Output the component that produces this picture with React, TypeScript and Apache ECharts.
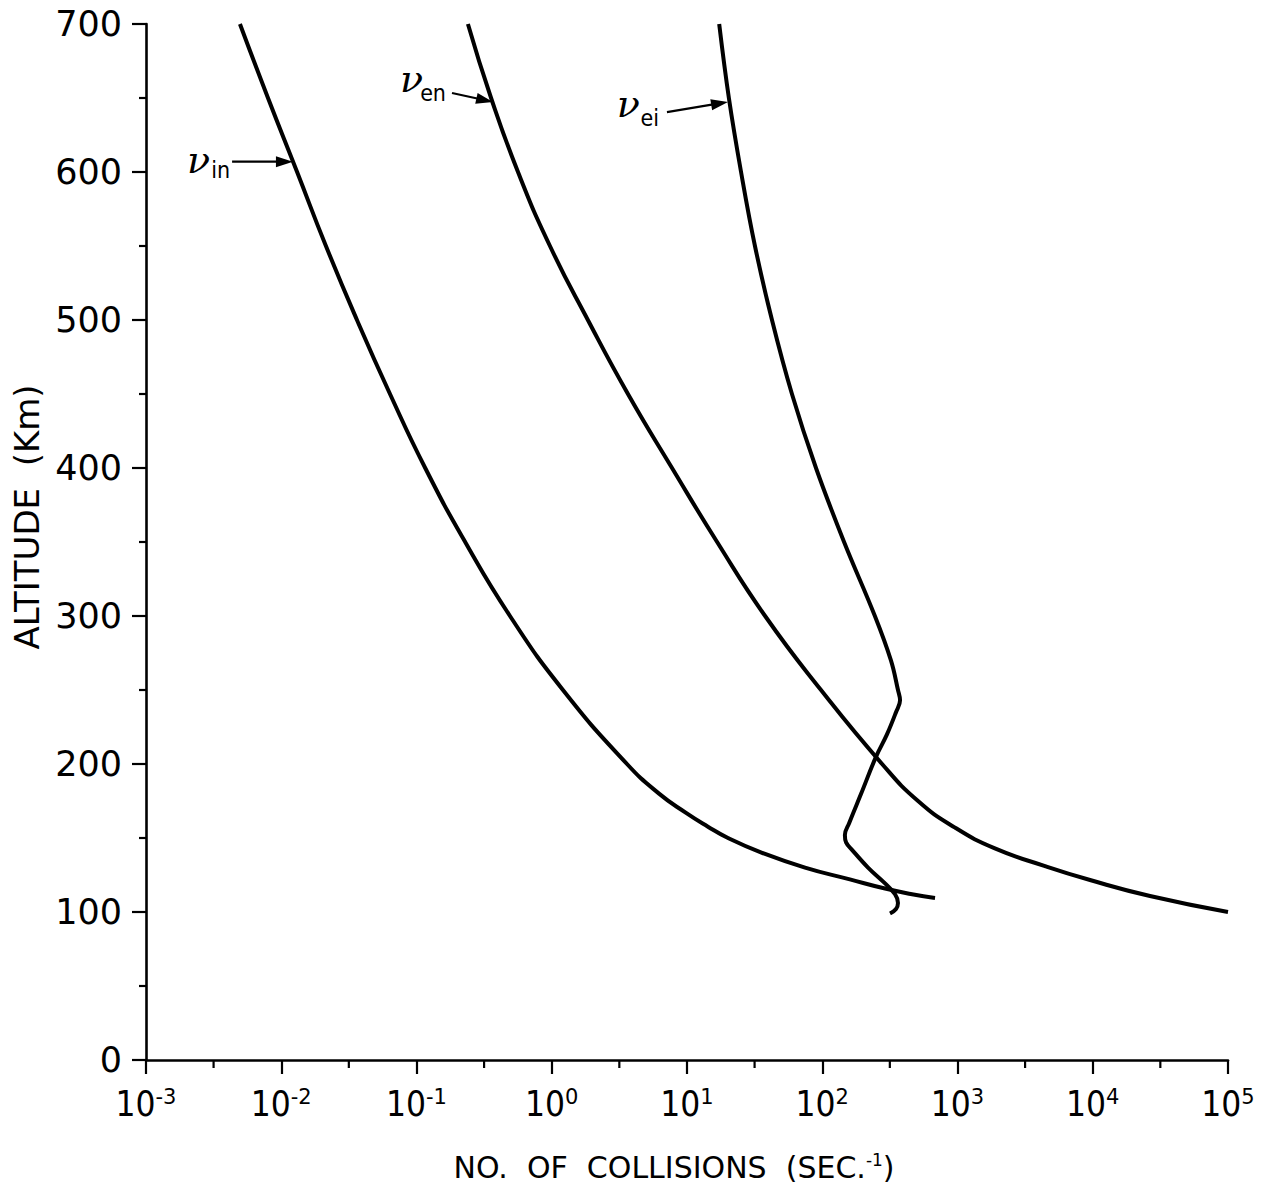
import React, { useEffect, useRef } from 'react';
import * as echarts from 'echarts';

// ---- data (collision frequency in s^-1 vs altitude in km) ----
const altIn = [700, 650, 600, 550, 500, 450, 400, 350, 300, 250, 200, 180, 167, 158, 150, 140, 130, 122, 116, 112, 109.5];
const nuIn = [4.95e-3, 7.98e-3, 1.31e-2, 2.14e-2, 3.63e-2, 6.37e-2, 0.116, 0.229, 0.491, 1.21, 3.6, 6.21, 9.84, 14.1, 20.1, 35.9, 74.6, 160, 286, 461, 682];

const altEn = [700, 650, 600, 550, 500, 450, 400, 350, 300, 250, 200, 175, 157, 143, 131, 121.6, 110.8, 100];
const nuEn = [0.24, 0.356, 0.563, 0.97, 1.85, 3.66, 7.75, 16.7, 37.8, 97.9, 277, 511, 959, 1890, 4440, 9550, 26500, 100000];

const altEi = [700, 650, 600, 550, 500, 450, 400, 350, 300, 270, 250, 243, 235, 220, 205, 180, 160, 152, 147, 142, 130, 120, 112, 106, 102, 99];
const nuEi = [17.3, 20.4, 25.1, 31.8, 42.5, 59.7, 89.9, 145, 245, 322, 363, 376, 351, 301, 250, 194, 158, 147, 150, 166, 218, 286, 345, 363, 351, 317];

// axis ticks
const xMin = 1e-3;
const xMax = 1e5;
const xMinorTicks = [3.16e-3, 3.16e-2, 0.316, 3.16, 31.6, 316, 3160, 31600];
const yMin = 0;
const yMax = 700;
const yStep = 100;

// annotations: subscript, arrow start [nu, km], arrow tip [nu, km]
const annLabels = ['in', 'en', 'ei'];
const annFrom = [[4.33e-3, 607], [0.183, 653.4], [7.11, 640.5]];
const annTo = [[0.0122, 607], [0.368, 647.3], [20.1, 647.3]];
// pixel offsets of nu / subscript relative to arrow start (right edge, baseline)
const annNuOff = [[-22, 10], [-29, -3], [-27, 3]];
const annSubOff = [[-2, 15], [-6, 7], [-8, 13]];

const toPairs = (xs: number[], ys: number[]) => ys.map((y, i) => [xs[i], y]);

const curveStyle = { color: '#000', width: 4 };

const axisFont = '"DejaVu Sans", Verdana, sans-serif';
const narrowFont = '"Liberation Sans Narrow", "DejaVu Sans Condensed", Roboto, sans-serif';

const option: any = {
  animation: false,
  backgroundColor: '#ffffff',
  grid: { left: 146, right: 40, top: 24, bottom: 136, containLabel: false, outerBoundsMode: 'none' },
  xAxis: {
    type: 'log',
    logBase: 10,
    min: xMin,
    max: xMax,
    splitNumber: 8,
    name: '{a|NO.  OF  COLLISIONS  (SEC.}{s|-1}{a|)}',
    nameLocation: 'middle',
    nameGap: 91,
    nameTextStyle: {
      padding: [0, 26, 0, 0],
      rich: {
        a: { fontSize: 30, fontFamily: axisFont, color: '#000', lineHeight: 32 },
        s: { fontSize: 17, fontFamily: axisFont, color: '#000', verticalAlign: 'top', lineHeight: 16 },
      },
    },
    axisLine: { show: true, onZero: false, lineStyle: { color: '#000', width: 2.6 } },
    axisTick: { show: true, inside: false, length: 14, lineStyle: { color: '#000', width: 2.2 } },
    axisLabel: {
      margin: 26,
      formatter: (v: number) => `{b|10}{e|${Math.round(Math.log10(v))}}`,
      rich: {
        b: { fontSize: 35, fontFamily: narrowFont, color: '#000', lineHeight: 36 },
        e: { fontSize: 21, fontFamily: axisFont, color: '#000', verticalAlign: 'top', lineHeight: 18 },
      },
    },
    splitLine: { show: false },
    minorTick: { show: false },
  },
  yAxis: {
    type: 'value',
    min: yMin,
    max: yMax,
    interval: yStep,
    name: 'ALTITUDE  (Km)',
    nameLocation: 'middle',
    nameGap: 100,
    nameTextStyle: { fontSize: 34, fontFamily: axisFont, color: '#000', padding: [0, 0, 0, 50] },
    axisLine: { show: true, onZero: false, lineStyle: { color: '#000', width: 2.6 } },
    axisTick: { show: true, inside: false, length: 14, lineStyle: { color: '#000', width: 2.2 } },
    minorTick: { show: true, splitNumber: 2, length: 7, lineStyle: { color: '#000', width: 2.2 } },
    axisLabel: { margin: 24, fontSize: 35, fontFamily: axisFont, color: '#000' },
    splitLine: { show: false },
    minorSplitLine: { show: false },
  },
  series: [
    {
      name: 'nu_in',
      type: 'line',
      data: toPairs(nuIn, altIn),
      showSymbol: false,
      symbol: 'none',
      smooth: 0.5,
      lineStyle: curveStyle,
      silent: true,
    },
    {
      name: 'nu_en',
      type: 'line',
      data: toPairs(nuEn, altEn),
      showSymbol: false,
      symbol: 'none',
      smooth: 0.5,
      lineStyle: curveStyle,
      silent: true,
    },
    {
      name: 'nu_ei',
      type: 'line',
      data: toPairs(nuEi, altEi),
      showSymbol: false,
      symbol: 'none',
      smooth: 0.4,
      lineStyle: curveStyle,
      silent: true,
    },
    {
      name: 'minorTicksX',
      type: 'custom',
      data: xMinorTicks.map((v) => [v, yMin]),
      clip: false,
      silent: true,
      z: 10,
      renderItem: (params: any, api: any) => {
        const p = api.coord([api.value(0), yMin]);
        return {
          type: 'line',
          shape: { x1: p[0], y1: p[1], x2: p[0], y2: p[1] + 8 },
          style: { stroke: '#000', lineWidth: 2.2 },
        };
      },
    },
  ],
};

export default function App() {
  const ref = useRef<HTMLDivElement>(null);
  useEffect(() => {
    if (!ref.current) return;
    const chart = echarts.init(ref.current, null, { renderer: 'svg' });
    chart.setOption(option);

    const graphics: any[] = [];
    annLabels.forEach((lab, i) => {
      const s = chart.convertToPixel({ xAxisIndex: 0, yAxisIndex: 0 }, annFrom[i]) as number[];
      const t = chart.convertToPixel({ xAxisIndex: 0, yAxisIndex: 0 }, annTo[i]) as number[];
      const dx = t[0] - s[0];
      const dy = t[1] - s[1];
      const len = Math.sqrt(dx * dx + dy * dy);
      const ux = dx / len;
      const uy = dy / len;
      const nx = -uy;
      const ny = ux;
      const hl = 17;
      const hw = 5.5;
      const bx = t[0] - hl * ux;
      const by = t[1] - hl * uy;
      graphics.push({
        type: 'line',
        shape: { x1: s[0], y1: s[1], x2: bx + 2 * ux, y2: by + 2 * uy },
        style: { stroke: '#000', lineWidth: 2.2 },
        silent: true,
      });
      graphics.push({
        type: 'polygon',
        shape: { points: [[t[0], t[1]], [bx + hw * nx, by + hw * ny], [bx - hw * nx, by - hw * ny]] },
        style: { fill: '#000' },
        silent: true,
      });
      const nuSize = 38;
      graphics.push({
        type: 'text',
        x: s[0] + annNuOff[i][0],
        y: s[1] + annNuOff[i][1] - 0.3 * nuSize,
        silent: true,
        style: {
          text: 'ν',
          fontSize: nuSize,
          fontStyle: 'italic',
          fontFamily: '"DejaVu Serif", serif',
          fill: '#000',
          align: 'right',
          textAlign: 'right',
          verticalAlign: 'middle',
          textVerticalAlign: 'middle',
        },
      });
      const subSize = 23;
      graphics.push({
        type: 'text',
        x: s[0] + annSubOff[i][0],
        y: s[1] + annSubOff[i][1] - 0.3 * subSize,
        silent: true,
        style: {
          text: lab,
          fontSize: subSize,
          fontFamily: narrowFont,
          fill: '#000',
          align: 'right',
          textAlign: 'right',
          verticalAlign: 'middle',
          textVerticalAlign: 'middle',
        },
      });
    });
    chart.setOption({ graphic: graphics });

    return () => chart.dispose();
  }, []);
  return <div ref={ref} style={{ position: 'absolute', left: 0, top: 0, width: 1268, height: 1196 }} />;
}
